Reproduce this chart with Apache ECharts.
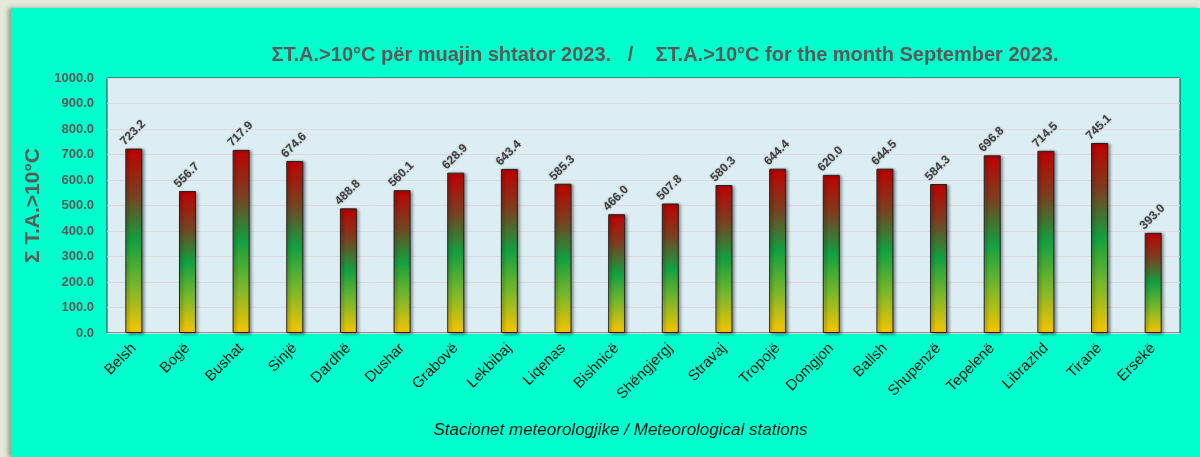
<!DOCTYPE html>
<html>
<head>
<meta charset="utf-8">
<script src="https://cdn.jsdelivr.net/npm/echarts@6/dist/echarts.min.js"></script>
<style>
  html, body { margin: 0; padding: 0; background: #e3ebd8; }
  #wrap { position: absolute; left: 0; top: 0; width: 1200px; height: 457px; overflow: hidden; }
  #panel { position: absolute; left: 11px; top: 8px; width: 1189px; height: 449px; background: #00ffcc;
           box-shadow: -3px 0 4px rgba(80,90,70,0.5); }
  #chart { position: absolute; left: 0; top: 0; width: 1200px; height: 457px; }
</style>
</head>
<body>
<div id="wrap">
  <div id="panel"></div>
  <div id="chart"></div>
</div>
<script>
// stations and their sums of active temperatures > 10°C, Sept 2023
const stations = ['Belsh', 'Bogë', 'Bushat', 'Sinjë', 'Dardhë', 'Dushar', 'Grabovë', 'Lekbibaj', 'Liqenas', 'Bishnicë',
  'Shëngjergj', 'Stravaj', 'Tropojë', 'Domgjon', 'Ballsh', 'Shupenzë', 'Tepelenë', 'Librazhd', 'Tiranë', 'Ersekë'];
const sums = [723.2, 556.7, 717.9, 674.6, 488.8, 560.1, 628.9, 643.4, 585.3, 466.0,
  507.8, 580.3, 644.4, 620.0, 644.5, 584.3, 696.8, 714.5, 745.1, 393.0];

const font = '"Liberation Sans", Arial, sans-serif';

const chart = echarts.init(document.getElementById('chart'));

const barColor = new echarts.graphic.LinearGradient(0, 0, 0, 1, [
  { offset: 0, color: '#c00000' },
  { offset: 0.25, color: '#7a4020' },
  { offset: 0.5, color: '#12a040' },
  { offset: 0.75, color: '#7ab82a' },
  { offset: 1, color: '#f8c400' }
]);

chart.setOption({
  backgroundColor: 'transparent',
  animation: false,
  title: {
    text: 'ΣT.A.>10°C për muajin shtator 2023.   /    ΣT.A.>10°C for the month September 2023.',
    left: 660,
    top: 40,
    textAlign: 'center',
    textStyle: { fontFamily: font, fontSize: 20, fontWeight: 'bold', color: '#595959' }
  },
  grid: { left: 107, right: 20, top: 78, bottom: 124, show: true, backgroundColor: '#dcedf3', borderColor: '#2a3a3a', borderWidth: 1 },
  xAxis: {
    type: 'category',
    data: stations,
    name: 'Stacionet meteorologjike / Meteorological stations',
    nameLocation: 'middle',
    nameGap: 89,
    nameTextStyle: { fontFamily: font, fontSize: 17, fontStyle: 'italic', color: '#111', padding: [0, 46, 0, 0] },
    axisLine: { show: false },
    axisTick: { show: false },
    axisLabel: { rotate: 45, interval: 0, margin: 13, fontFamily: font, fontSize: 15, color: '#111' }
  },
  yAxis: {
    type: 'value',
    min: 0,
    max: 1000,
    interval: 100,
    name: 'Σ T.A.>10°C',
    nameLocation: 'middle',
    nameGap: 60,
    nameTextStyle: { fontFamily: font, fontSize: 21, fontWeight: 'bold', color: '#595959' },
    axisLine: { show: false },
    axisTick: { show: false },
    axisLabel: { formatter: v => v.toFixed(1), margin: 13, fontFamily: font, fontSize: 13, fontWeight: 'bold', color: '#595959' },
    splitLine: { lineStyle: { color: '#e2d6de', width: 1 } }
  },
  series: [{
    type: 'bar',
    data: sums,
    barWidth: 17,
    itemStyle: {
      color: barColor,
      borderColor: '#222',
      borderWidth: 1,
      shadowColor: 'rgba(0,0,0,0.45)',
      shadowBlur: 3,
      shadowOffsetX: 2,
      shadowOffsetY: 1
    },
    label: {
      show: true,
      position: 'top',
      rotate: 45,
      align: 'left',
      verticalAlign: 'middle',
      distance: 8,
      offset: [-10, -6],
      formatter: p => p.value.toFixed(1),
      fontFamily: font,
      fontSize: 12,
      fontWeight: 'bold',
      color: '#404040',
      textShadowColor: 'rgba(0,0,0,0.25)',
      textShadowBlur: 2
    }
  }]
});
</script>
</body>
</html>
